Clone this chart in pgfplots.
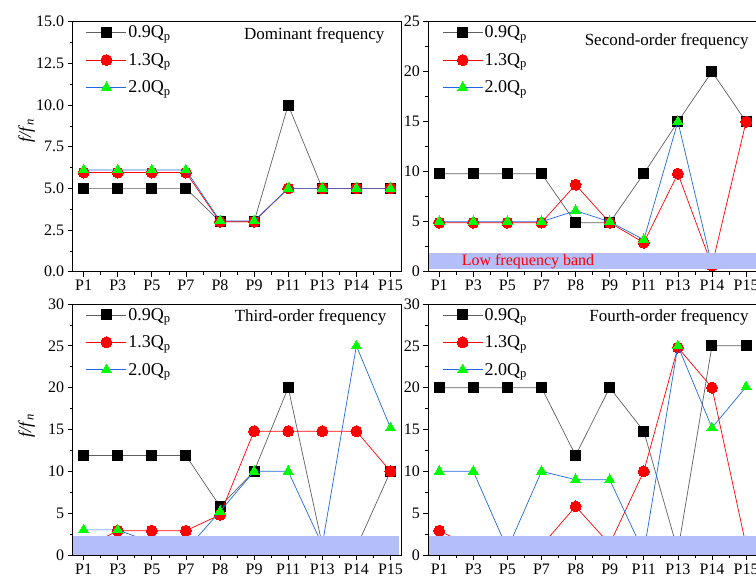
\documentclass[border=0pt]{standalone}
\usepackage{pgfplots}
\pgfplotsset{compat=1.18}
\usepackage{fontspec}
\setmainfont{Liberation Serif}

\definecolor{bandblue}{RGB}{180,190,248}
\definecolor{lineblue}{RGB}{30,105,225}
\definecolor{linegray}{RGB}{95,95,95}
\definecolor{mkgreen}{RGB}{0,255,0}

\tikzset{ttl/.style={font=\fontsize{17}{17}\selectfont, anchor=east}}

\pgfplotsset{
  panel/.style={
    scale only axis, width=328.7pt,
    xmin=-0.32, xmax=9.32, ymin=0,
    xtick={0,...,9},
    xticklabels={P1,P3,P5,P7,P8,P9,P11,P13,P14,P15},
    minor x tick num=1, minor y tick num=1,
    tick align=outside, tick pos=left,
    major tick length=5pt, minor tick length=3pt,
    tick style={black, line width=0.7pt},
    axis line style={line width=0.8pt},
    tick label style={font=\fontsize{16}{16}\selectfont},
    /pgf/number format/assume math mode=true,
    axis on top, clip marker paths=true,
    legend cell align=left,
    legend style={draw=none, fill=none, anchor=north west,
      font=\fontsize{18}{18}\selectfont, row sep=11pt,
      nodes={inner sep=1.5pt}},
    legend image code/.code={%
      \draw[mark repeat=2,mark phase=2,#1]
        plot coordinates {(0pt,0pt)(20pt,0pt)(40pt,0pt)};},
  },
  s09/.style={color=linegray, line width=0.7pt, mark=square*, mark size=5pt,
    mark options={fill=black, draw=black, line width=0pt}},
  s13/.style={color=red, line width=0.7pt, mark=*, mark size=5.5pt,
    mark options={fill=red, draw=red, line width=0pt}},
  s20/.style={color=lineblue, line width=0.7pt, mark=triangle*, mark size=5.8pt,
    mark options={fill=mkgreen, draw=mkgreen, line width=0pt}},
  band/.style={fill=bandblue, draw=none, mark=none, forget plot},
  ylab/.style={ylabel={\fontsize{18}{18}\selectfont\textit{f/f}\textsubscript{\textit{n}}},
    every axis y label/.style={at={(axis description cs:-0.14,#1)}, rotate=90, anchor=center}},
}

\begin{document}
\begin{tikzpicture}
\useasboundingbox (0pt,0pt) rectangle (756pt,580pt);
\clip (0pt,0pt) rectangle (756pt,580pt);

% Dominant frequency
\begin{axis}[panel, at={(72.7pt,308.3pt)}, anchor=south west, height=250pt,
  ymax=15, ytick={0,2.5,...,15},
  yticklabel style={/pgf/number format/.cd, fixed, fixed zerofill, precision=1},
  ylab=0.563, legend style={at={(0.031,0.998)}}]
\addplot[s09] coordinates {(0,5)(1,5)(2,5)(3,5)(4,3)(5,3)(6,10)(7,5)(8,5)(9,5)};
\addplot[s13] coordinates {(0,5.95)(1,5.95)(2,5.95)(3,5.95)(4,3)(5,3)(6,5)(7,5)(8,5)(9,5)};
\addplot[s20] coordinates {(0,6.1)(1,6.1)(2,6.1)(3,6.1)(4,3.05)(5,3.05)(6,5)(7,5)(8,5)(9,5)};
\legend{0.9Q\textsubscript{p},1.3Q\textsubscript{p},2.0Q\textsubscript{p}}
\node[ttl] at (rel axis cs:0.959,0.947) {Dominant frequency};
\end{axis}

% Third-order frequency
\begin{axis}[panel, at={(72.7pt,25pt)}, anchor=south west, height=251pt,
  ymax=30, ytick={0,5,...,30},
  ylab=0.514, legend style={at={(0.031,0.998)}}]
\addplot[s09] coordinates {(0,11.9)(1,11.9)(2,11.9)(3,11.9)(4,5.8)(5,10)(6,20)(7,1.2)(8,0.9)(9,10)};
\addplot[s13] coordinates {(0,0.8)(1,2.9)(2,2.9)(3,2.9)(4,4.8)(5,14.8)(6,14.8)(7,14.8)(8,14.8)(9,10)};
\addplot[s20] coordinates {(0,3.0)(1,3.0)(2,1.5)(3,0.6)(4,5.2)(5,10)(6,10)(7,1.2)(8,25)(9,15.2)};
\legend{0.9Q\textsubscript{p},1.3Q\textsubscript{p},2.0Q\textsubscript{p}}
\addplot[band] coordinates {(-0.32,0)(9.25,0)(9.25,2.25)(-0.32,2.25)} -- cycle;
\node[ttl] at (rel axis cs:0.965,0.948) {Third-order frequency};
\end{axis}

% Second-order frequency
\begin{axis}[panel, at={(428.3pt,308.3pt)}, anchor=south west, height=250pt,
  ymax=25, ytick={0,5,...,25},
  legend style={at={(0.033,0.998)}}]
\addplot[s09] coordinates {(0,9.8)(1,9.8)(2,9.8)(3,9.8)(4,4.9)(5,4.9)(6,9.8)(7,15)(8,20)(9,15)};
\addplot[s13] coordinates {(0,4.9)(1,4.9)(2,4.9)(3,4.9)(4,8.7)(5,4.9)(6,2.9)(7,9.8)(8,0.6)(9,15)};
\addplot[s20] coordinates {(0,5)(1,5)(2,5)(3,5)(4,6.1)(5,5)(6,3.2)(7,15)(8,0.6)(9,1.0)};
\legend{0.9Q\textsubscript{p},1.3Q\textsubscript{p},2.0Q\textsubscript{p}}
\addplot[band] coordinates {(-0.32,0.27)(9.32,0.27)(9.32,1.87)(-0.32,1.87)} -- cycle;
\node[anchor=west, text=red, font=\fontsize{16}{16}\selectfont] at (axis cs:0.56,1.05) {Low frequency band};
\node[ttl] at (rel axis cs:0.985,0.923) {Second-order frequency};
\end{axis}

% Fourth-order frequency
\begin{axis}[panel, at={(428.3pt,25pt)}, anchor=south west, height=251pt,
  ymax=30, ytick={0,5,...,30},
  legend style={at={(0.033,0.998)}}]
\addplot[s09] coordinates {(0,20)(1,20)(2,20)(3,20)(4,11.9)(5,20)(6,14.8)(7,0.5)(8,25)(9,25)};
\addplot[s13] coordinates {(0,2.9)(1,0.9)(2,0.9)(3,1.1)(4,5.8)(5,1.3)(6,10)(7,24.8)(8,20)(9,1.1)};
\addplot[s20] coordinates {(0,10)(1,10)(2,0.7)(3,10)(4,9)(5,9)(6,0.3)(7,25)(8,15.2)(9,20.1)};
\legend{0.9Q\textsubscript{p},1.3Q\textsubscript{p},2.0Q\textsubscript{p}}
\addplot[band] coordinates {(-0.32,0)(9.32,0)(9.32,2.25)(-0.32,2.25)} -- cycle;
\node[ttl] at (rel axis cs:0.985,0.948) {Fourth-order frequency};
\end{axis}
\end{tikzpicture}
\end{document}
